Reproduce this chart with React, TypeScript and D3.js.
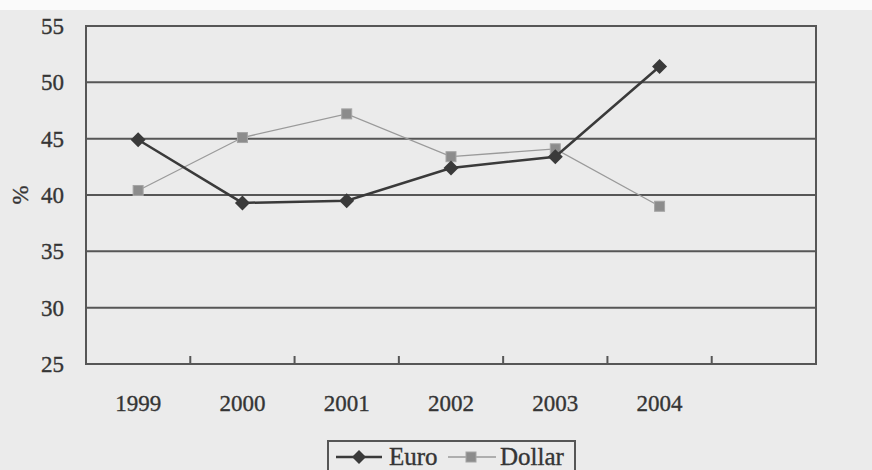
import React from 'react';
import * as d3 from 'd3';

// Years shown on the x axis (the last slot is an empty category)
const years = ['1999', '2000', '2001', '2002', '2003', '2004'];
const slots = [...years, ''];
const euro = [44.9, 39.3, 39.5, 42.4, 43.4, 51.4];
const dollar = [40.4, 45.1, 47.2, 43.4, 44.1, 39.0];
const yTicks = [25, 30, 35, 40, 45, 50, 55];

const W = 872;
const H = 470;
const margin = { top: 26, right: 56, bottom: 106, left: 86 };
const FONT = 'Liberation Serif, Times New Roman, serif';
const TEXT = '#353535';

const App = () => {
  const x = d3.scaleBand<string>()
    .domain(slots)
    .range([margin.left, W - margin.right]);

  const y = d3.scaleLinear()
    .domain([25, 55])
    .range([H - margin.bottom, margin.top]);

  const cx = (i: number) => (x(years[i]) as number) + x.bandwidth() / 2;

  const line = d3.line<number>()
    .x((_, i) => cx(i))
    .y(d => y(d));

  const diamond = (px: number, py: number, r: number) =>
    `M${px},${py - r}L${px + r},${py}L${px},${py + r}L${px - r},${py}Z`;

  const grid = '#565656';
  const x0 = margin.left;
  const x1 = W - margin.right;
  const yBottom = H - margin.bottom;

  const textProps = { style: { fontFamily: FONT }, fill: TEXT, stroke: TEXT, strokeWidth: 0.35 };

  return (
    <svg width={W} height={H} style={{ display: 'block', position: 'absolute', left: 0, top: 0, fontFamily: FONT }}>
      <rect x={0} y={0} width={W} height={H} fill="#ebebeb" />
      <rect x={0} y={0} width={W} height={10} fill="#fafafa" />

      {/* horizontal grid lines */}
      {yTicks.map(t => (
        <line key={t} x1={x0} x2={x1} y1={y(t)} y2={y(t)} stroke={grid} strokeWidth={2} />
      ))}
      {/* plot border */}
      <rect x={x0} y={y(55)} width={x1 - x0} height={yBottom - y(55)} fill="none" stroke={grid} strokeWidth={2} />

      {/* category boundary ticks */}
      {slots.slice(1).map(s => (
        <line key={'t' + s} x1={x(s)} x2={x(s)} y1={yBottom} y2={yBottom - 8} stroke={grid} strokeWidth={2} />
      ))}

      {/* y tick labels */}
      {yTicks.map(t => (
        <text key={'l' + t} x={64} y={y(t)} dy="0.35em" textAnchor="end" fontSize={23} {...textProps}>
          {t}
        </text>
      ))}
      <text transform={`translate(28,${y(40)}) rotate(-90)`} textAnchor="middle" fontSize={23} {...textProps}>%</text>

      {/* x tick labels */}
      {years.map((yr, i) => (
        <text key={yr} x={cx(i)} y={yBottom + 47} textAnchor="middle" fontSize={23} {...textProps}>
          {yr}
        </text>
      ))}

      {/* Dollar series */}
      <path d={line(dollar) || ''} fill="none" stroke="#9a9a9a" strokeWidth={1.3} />
      {dollar.map((v, i) => (
        <rect key={'d' + i} x={cx(i) - 5} y={y(v) - 5} width={10} height={10} fill="#8c8c8c" stroke="#a5a5a5" strokeWidth={1} />
      ))}

      {/* Euro series */}
      <path d={line(euro) || ''} fill="none" stroke="#3a3a3a" strokeWidth={2.5} />
      {euro.map((v, i) => (
        <path key={'e' + i} d={diamond(cx(i), y(v), 7.5)} fill="#3a3a3a" />
      ))}

      {/* legend */}
      <rect x={328} y={441} width={247} height={34} fill="#ebebeb" stroke={grid} strokeWidth={2} />
      <line x1={336} x2={382} y1={457} y2={457} stroke="#3a3a3a" strokeWidth={2.5} />
      <path d={diamond(359, 457, 7)} fill="#3a3a3a" />
      <text x={389} y={465} fontSize={25} {...textProps}>Euro</text>
      <line x1={448} x2={496} y1={457} y2={457} stroke="#9a9a9a" strokeWidth={1.3} />
      <rect x={466} y={452} width={10} height={10} fill="#8c8c8c" stroke="#a5a5a5" strokeWidth={1} />
      <text x={500} y={465} fontSize={25} {...textProps}>Dollar</text>
    </svg>
  );
};

export default App;
